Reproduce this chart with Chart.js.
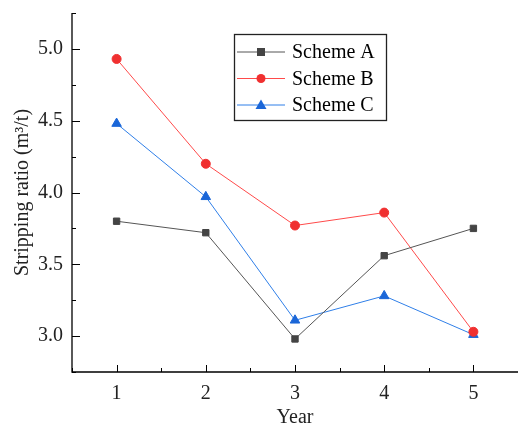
<!DOCTYPE html>
<html>
<head>
<meta charset="utf-8">
<script src="https://cdn.jsdelivr.net/npm/chart.js@4/dist/chart.umd.min.js"></script>
<style>
  html, body { margin: 0; padding: 0; background: #fff; }
  #wrap { width: 518px; height: 425px; }
</style>
</head>
<body>
<div id="wrap"><canvas id="chart"></canvas></div>
<script>
const years = [1, 2, 3, 4, 5];
const schemeA = [3.80, 3.72, 2.98, 3.56, 3.75];
const schemeB = [4.93, 4.20, 3.77, 3.86, 3.03];
const schemeC = [4.48, 3.97, 3.11, 3.28, 3.01];
const seriesNames = ['Scheme A', 'Scheme B', 'Scheme C'];

const serif = "'Liberation Serif', 'DejaVu Serif', serif";

function points(vals) {
    return years.map((x, i) => ({ x: x, y: vals[i] }));
}

function noPad(s) {
    s.paddingTop = 0; s.paddingBottom = 0;
    s.paddingLeft = 0; s.paddingRight = 0;
}

// inward ticks, like the original plot
const inwardTicks = {
    id: 'inwardTicks',
    afterDraw(chart) {
        const ctx = chart.ctx;
        const xs = chart.scales.x, ys = chart.scales.y;
        const area = chart.chartArea;
        ctx.save();
        ctx.strokeStyle = '#000';
        ctx.lineWidth = 1.3;
        ctx.beginPath();
        ctx.moveTo(area.left, area.top);
        ctx.lineTo(area.left, area.bottom);
        ctx.lineTo(area.right, area.bottom);
        ctx.stroke();
        ctx.lineWidth = 1;
        xs.ticks.forEach(t => {
            const px = Math.round(xs.getPixelForValue(t.value)) + 0.5;
            const len = Number.isInteger(t.value) ? 7 : 4;
            ctx.beginPath();
            ctx.moveTo(px, area.bottom);
            ctx.lineTo(px, area.bottom - len);
            ctx.stroke();
        });
        ys.ticks.forEach(t => {
            const py = Math.round(ys.getPixelForValue(t.value)) + 0.5;
            const major = Math.abs(t.value / 0.5 - Math.round(t.value / 0.5)) < 1e-6;
            const len = major ? 8 : 4;
            ctx.beginPath();
            ctx.moveTo(area.left, py);
            ctx.lineTo(area.left + len, py);
            ctx.stroke();
        });
        ctx.restore();
    }
};

// legend box inside the plot
const boxLegend = {
    id: 'boxLegend',
    afterDraw(chart) {
        const ctx = chart.ctx;
        const bx = 234, by = 34, bw = 152, bh = 86;
        ctx.save();
        ctx.strokeStyle = '#222';
        ctx.lineWidth = 1.3;
        ctx.strokeRect(bx + 0.5, by + 0.5, bw, bh);
        chart.data.datasets.forEach((ds, i) => {
            const cy = 52 + i * 26.5;
            ctx.strokeStyle = ds.borderColor;
            ctx.lineWidth = 1;
            ctx.beginPath();
            ctx.moveTo(237, cy);
            ctx.lineTo(285, cy);
            ctx.stroke();
            ctx.fillStyle = ds.pointBackgroundColor;
            const mx = 261;
            ctx.beginPath();
            if (ds.pointStyle === 'rect') {
                ctx.rect(mx - 4, cy - 4, 8, 8);
            } else if (ds.pointStyle === 'circle') {
                ctx.arc(mx, cy, 4.5, 0, Math.PI * 2);
            } else {
                ctx.moveTo(mx, cy - 5.5);
                ctx.lineTo(mx + 5.5, cy + 4);
                ctx.lineTo(mx - 5.5, cy + 4);
                ctx.closePath();
            }
            ctx.fill();
            ctx.fillStyle = '#000';
            ctx.font = '20px ' + serif;
            ctx.textBaseline = 'middle';
            ctx.fillText(ds.label, 292, cy + 1);
        });
        ctx.restore();
    }
};

new Chart(document.getElementById('chart'), {
    type: 'line',
    data: {
        datasets: [
            {
                label: seriesNames[0], data: points(schemeA),
                borderColor: '#555555', backgroundColor: '#444444',
                pointBackgroundColor: '#444444', pointBorderColor: '#444444',
                pointStyle: 'rect', pointRadius: 4.5, borderWidth: 1
            },
            {
                label: seriesNames[1], data: points(schemeB),
                borderColor: '#ff4a4a', backgroundColor: '#f03030',
                pointBackgroundColor: '#f03030', pointBorderColor: '#f03030',
                pointStyle: 'circle', pointRadius: 4.5, borderWidth: 1
            },
            {
                label: seriesNames[2], data: points(schemeC),
                borderColor: '#2f7fe8', backgroundColor: '#1a66d8',
                pointBackgroundColor: '#1a66d8', pointBorderColor: '#1a66d8',
                pointStyle: 'triangle', pointRadius: 5.5, borderWidth: 1
            }
        ]
    },
    options: {
        responsive: true,
        maintainAspectRatio: false,
        animation: false,
        layout: { autoPadding: false, padding: { top: 13, right: 0, left: 0, bottom: 0 } },
        plugins: {
            legend: { display: false },
            tooltip: { enabled: false }
        },
        scales: {
            x: {
                type: 'linear',
                min: 0.5, max: 5.5,
                grid: { display: false, drawTicks: false },
                border: { display: false },
                ticks: {
                    stepSize: 0.5, autoSkip: false, maxRotation: 0,
                    padding: 10, color: '#222',
                    font: { family: serif, size: 20 },
                    callback: v => Number.isInteger(v) && v <= 5 ? String(v) : ''
                },
                title: {
                    display: true, text: 'Year', color: '#222',
                    font: { family: serif, size: 20 }, padding: { top: 0, bottom: -5 }
                },
                afterFit: s => { s.height = 53; noPad(s); }
            },
            y: {
                min: 2.75, max: 5.25,
                grid: { display: false, drawTicks: false },
                border: { display: false },
                ticks: {
                    stepSize: 0.25, autoSkip: false, padding: 9, color: '#222',
                    font: { family: serif, size: 20 },
                    callback: v => Math.abs(v / 0.5 - Math.round(v / 0.5)) < 1e-6 ? v.toFixed(1) : ''
                },
                title: {
                    display: true, text: 'Stripping ratio (m³/t)', color: '#222',
                    font: { family: serif, size: 20 }, padding: { top: 11, bottom: 0 }
                },
                afterFit: s => { s.width = 72; noPad(s); }
            }
        }
    },
    plugins: [inwardTicks, boxLegend]
});
</script>
</body>
</html>
